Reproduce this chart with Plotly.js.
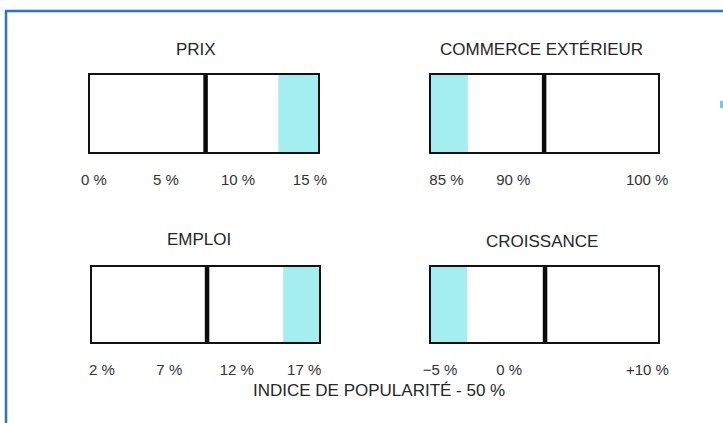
<!DOCTYPE html>
<html>
<head>
<meta charset="utf-8">
<script src="https://cdn.plot.ly/plotly-3.0.1.min.js"></script>
<style>html,body{margin:0;padding:0;background:#fff;}#chart{width:723px;height:423px;}</style>
</head>
<body>
<div id="chart"></div>
<script>
// ---- data ----
const titles = ["PRIX", "COMMERCE EXTÉRIEUR", "EMPLOI", "CROISSANCE"];
const prixTicks = [0, 5, 10, 15];
const prixLabels = ["0 %", "5 %", "10 %", "15 %"];
const commerceTicks = [85, 90, 100];
const commerceLabels = ["85 %", "90 %", "100 %"];
const emploiTicks = [2, 7, 12, 17];
const emploiLabels = ["2 %", "7 %", "12 %", "17 %"];
const croissanceTicks = [-5, 0, 10];
const croissanceLabels = ["−5 %", "0 %", "+10 %"];
const scaleMin = [-0.28, 83.85, 1.27, -5.65];
const scaleMax = [15.56, 100.81, 18.1, 10.77];
const midMark = [7.75, 92.3, 9.8, 2.6];
const bandStart = [12.8, 83.85, 15.45, -5.65];
const bandEnd = [15.56, 86.6, 18.1, -3.05];
const popularityIndex = 50;
const captionText = "INDICE DE POPULARITÉ - " + popularityIndex + " %";

const tickSets = [prixTicks, commerceTicks, emploiTicks, croissanceTicks];
const labelSets = [prixLabels, commerceLabels, emploiLabels, croissanceLabels];

// ---- layout helpers ----
const W = 723, H = 423;
const px = v => v / W;
const py = v => 1 - v / H;
const boxes = [
  {l: 90, r: 318, t: 75, b: 152},
  {l: 431, r: 658, t: 75, b: 152},
  {l: 92, r: 319, t: 267, b: 342},
  {l: 431, r: 658, t: 267, b: 342}
];
const titlePos = [[196, 50], [541, 50], [199, 239], [542, 241]];

const FONT = "Liberation Sans, Arial, sans-serif";
const CYAN = "#a4eef0";
const traces = [];
const layout = {
  width: W, height: H,
  margin: {l: 0, r: 0, t: 0, b: 0},
  paper_bgcolor: "#ffffff",
  plot_bgcolor: "rgba(0,0,0,0)",
  showlegend: false,
  font: {family: FONT, color: "#2a2a2a"},
  annotations: [],
  shapes: []
};

for (let i = 0; i < 4; i++) {
  const n = i === 0 ? "" : String(i + 1);
  const xa = "x" + n, ya = "y" + n;
  const b = boxes[i];
  layout["xaxis" + n] = {
    domain: [px(b.l), px(b.r)],
    anchor: ya,
    range: [scaleMin[i], scaleMax[i]],
    tickmode: "array",
    tickvals: tickSets[i],
    ticktext: labelSets[i],
    ticks: "",
    ticklabelstandoff: 13,
    tickfont: {family: FONT, size: 15, color: "#333333"},
    showgrid: false, zeroline: false,
    showline: true, mirror: true, linecolor: "#111111", linewidth: 2,
    fixedrange: true
  };
  layout["yaxis" + n] = {
    domain: [py(b.b), py(b.t)],
    anchor: xa,
    range: [0, 1],
    showticklabels: false, ticks: "",
    showgrid: false, zeroline: false,
    showline: true, mirror: true, linecolor: "#111111", linewidth: 2,
    fixedrange: true
  };
  traces.push({
    type: "bar", orientation: "h",
    xaxis: xa, yaxis: ya,
    y: [0.5], base: [bandStart[i]], x: [bandEnd[i] - bandStart[i]],
    width: [1],
    marker: {color: CYAN, line: {width: 0}},
    hoverinfo: "skip"
  });
  traces.push({
    type: "scatter", mode: "lines",
    xaxis: xa, yaxis: ya,
    x: [midMark[i], midMark[i]], y: [0, 1],
    line: {color: "#0a0a0a", width: 4.5},
    hoverinfo: "skip"
  });
  layout.annotations.push({
    xref: "paper", yref: "paper",
    x: px(titlePos[i][0]), y: py(titlePos[i][1]),
    xanchor: "center", yanchor: "middle",
    text: titles[i], showarrow: false,
    font: {family: FONT, size: 17, color: "#262626"}
  });
}

layout.annotations.push({
  xref: "paper", yref: "paper",
  x: px(379), y: py(390),
  xanchor: "center", yanchor: "middle",
  text: captionText, showarrow: false,
  font: {family: FONT, size: 17, color: "#262626"}
});

// page frame (blue border of the scanned page)
layout.shapes.push(
  {type: "line", xref: "paper", yref: "paper", x0: px(5), x1: 1, y0: py(11), y1: py(11),
   line: {color: "#2f6fd0", width: 2.5}},
  {type: "line", xref: "paper", yref: "paper", x0: px(6), x1: px(6), y0: 0, y1: py(10),
   line: {color: "#2f6fd0", width: 2.5}},
  {type: "rect", xref: "paper", yref: "paper", x0: px(720), x1: px(723), y0: py(108), y1: py(101),
   line: {width: 0}, fillcolor: "#7fc3dc"}
);

Plotly.newPlot("chart", traces, layout, {staticPlot: true, displayModeBar: false});
</script>
</body>
</html>
